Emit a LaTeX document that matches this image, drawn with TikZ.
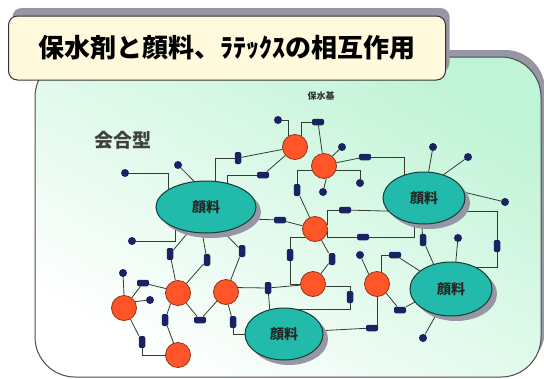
\documentclass[tikz,border=0pt]{standalone}
\usepackage{fontspec}
\newfontfamily\jp{Noto Sans CJK JP}
\usetikzlibrary{shapes.geometric,shadows}
\definecolor{paneltop}{RGB}{192,244,214}
\definecolor{titlefill}{RGB}{255,250,222}
\definecolor{pigfill}{RGB}{34,186,170}
\definecolor{pigline}{RGB}{20,60,50}
\definecolor{latfill}{RGB}{255,85,40}
\definecolor{latline}{RGB}{150,50,20}
\definecolor{grpblue}{RGB}{25,35,100}
\definecolor{wirecol}{RGB}{50,60,50}
\definecolor{shadowgray}{RGB}{150,150,165}
\pgfdeclarelayer{back}
\pgfdeclarelayer{wires}
\pgfsetlayers{back,wires,main}

\begin{document}
\begin{tikzpicture}[x=1pt,y=-1pt,
    pigment/.style={ellipse,draw=pigline,line width=1pt,fill=pigfill,inner sep=0pt,font=\jp\bfseries\fontsize{14}{14}\selectfont,text=black!85,general shadow={fill=shadowgray,shadow xshift=5pt,shadow yshift=-5pt}},
    latex/.style={circle,draw=latline,line width=0.8pt,fill=latfill,minimum size=25pt,inner sep=0pt},
    grp/.style={rectangle,rounded corners=2pt,fill=grpblue,minimum width=12pt,minimum height=6.5pt,inner sep=0pt},
    grpv/.style={grp,rotate=90},
    dot/.style={circle,fill=grpblue,minimum size=8pt,inner sep=0pt},
    every edge/.style={draw=wirecol,line width=0.8pt},
    hv/.style={to path={-| (\tikztotarget)}},
    vh/.style={to path={|- (\tikztotarget)}}]
                    \useasboundingbox (0,0) rectangle (544,378);
                    \begin{pgfonlayer}{back}
                    \path[draw=black!70,line width=1pt,rounded corners=40pt,top color=paneltop,bottom color=white,shading angle=-30,
                          general shadow={fill=shadowgray,shadow xshift=4pt,shadow yshift=7pt}] (35,57) rectangle (541,377);
                    \end{pgfonlayer}

                    \node[draw=black!80,line width=1pt,fill=titlefill,rounded corners=9pt,minimum width=437pt,minimum height=64pt,
                          font=\jp\bfseries\fontsize{26}{28}\selectfont,general shadow={fill=shadowgray,shadow xshift=4pt,shadow yshift=8pt}]
                          (title) at (227,48) {保水剤と顔料、ﾗﾃｯｸｽの相互作用};
                    \node[font=\jp\bfseries\fontsize{19}{20}\selectfont,text=black!75] (kind) at (123,140) {会合型};
                    \node[font=\jp\bfseries\fontsize{9}{10}\selectfont,text=black!80] (gname) at (321,96) {保水基};

                    % pigments
                    \node[pigment,minimum width=100pt,minimum height=52pt] (p1) at (206,207) {顔料};
                    \node[pigment,minimum width=82pt,minimum height=52pt] (p2) at (424,198) {顔料};
                    \node[pigment,minimum width=82pt,minimum height=54pt] (p3) at (451,289) {顔料};
                    \node[pigment,minimum width=78pt,minimum height=52pt] (p4) at (284,334) {顔料};

                    % latex particles
                    \node[latex] (l1) at (295,147) {};
                    \node[latex] (l2) at (324,166) {};
                    \node[latex] (l3) at (315,229) {};
                    \node[latex] (l4) at (313,284) {};
                    \node[latex] (l5) at (377,284) {};
                    \node[latex] (l6) at (226,292) {};
                    \node[latex] (l7) at (178,293) {};
                    \node[latex] (l8) at (124,308) {};
                    \node[latex] (l9) at (178,355) {};

                    % associating groups
                    \node[grpv] (g1) at (238,158) {};
                    \node[grp] (g2) at (263,175) {};
                    \node[grp] (g3) at (318,122) {};
                    \node[grp] (g4) at (365,157) {};
                    \node[grpv] (g5) at (297,190) {};
                    \node[grp] (g6) at (280,220) {};
                    \node[grp] (g7) at (345,210) {};
                    \node[grp] (g8) at (363,237) {};
                    \node[grpv] (g9) at (290,255) {};
                    \node[grpv] (g10) at (332,259) {};
                    \node[grpv] (g11) at (170,254) {};
                    \node[grpv] (g12) at (207,260) {};
                    \node[grpv] (g13) at (242,251) {};
                    \node[grpv] (g14) at (268,288) {};
                    \node[grpv] (g15) at (233,322) {};
                    \node[grp] (g16) at (200,320) {};
                    \node[grp] (g17) at (143,283) {};
                    \node[grpv] (g18) at (165,320) {};
                    \node[grpv] (g19) at (142,342) {};
                    \node[grpv] (g20) at (350,297) {};
                    \node[grp] (g21) at (395,255) {};
                    \node[grp] (g22) at (400,310) {};
                    \node[grp] (g23) at (372,328) {};
                    \node[grpv] (g24) at (423,240) {};
                    \node[grpv] (g25) at (497,246) {};

                    % free chain ends
                    \node[dot] (d1) at (125,173) {};
                    \node[dot] (d2) at (178,165) {};
                    \node[dot] (d3) at (132,241) {};
                    \node[dot] (d4) at (278,120) {};
                    \node[dot] (d5) at (342,147) {};
                    \node[dot] (d6) at (360,183) {};
                    \node[dot] (d7) at (323,192) {};
                    \node[dot] (d8) at (433,147) {};
                    \node[dot] (d9) at (468,157) {};
                    \node[dot] (d10) at (505,202) {};
                    \node[dot] (d11) at (458,238) {};
                    \node[dot] (d12) at (360,255) {};
                    \node[dot] (d13) at (423,338) {};
                    \node[dot] (d14) at (123,273) {};
                    \node[dot] (d15) at (150,300) {};

                    \begin{pgfonlayer}{wires}
                    \path
                        (p1.155) edge[vh] (d1)
                        (p1.115) edge (d2)
                        (p1.215) edge[vh] (d3)
                        (p1.70) edge[vh] (g1)
                        (g1) edge (l1)
                        (p1.48) edge[vh] (g2)
                        (g2) edge (l1)
                        (l1.120) edge[vh] (d4)
                        (l1.60) edge[vh] (g3)
                        (g3) edge (l2)
                        (l2.50) edge (d5)
                        (l2.15) edge (g4)
                        (g4) edge[hv] (p2.130)
                        (l2.-20) edge[hv] (d6)
                        (l2.-80) edge (d7)
                        (l2.200) edge[hv] (g5)
                        (g5) edge (l3)
                        (p1.-15) edge (g6)
                        (g6) edge (l3)
                        (l3.20) edge[vh] (g7)
                        (g7) edge (p2.200)
                        (l3.-10) edge[vh] (g8)
                        (g8) edge[hv] (p2.250)
                        (l3.220) edge[hv] (g9)
                        (g9) edge[vh] (l4)
                        (l3.-60) edge (g10)
                        (g10) edge (l4)
                        (p1.235) edge (g11)
                        (g11) edge (l7)
                        (p1.262) edge (g12)
                        (g12) edge (l7)
                        (p1.305) edge (g13)
                        (g13) edge (l6)
                        (l6.20) edge (g14)
                        (g14) edge (l4)
                        (g14) edge (p4.120)
                        (l6.-80) edge (g15)
                        (g15) edge[vh] (p4.west)
                        (l6.225) edge (g16)
                        (g16) edge (l7)
                        (l7.160) edge (g17)
                        (g17) edge (l8)
                        (l7.235) edge (g18)
                        (g18) edge (l9)
                        (l8.north) edge (d14)
                        (l8.30) edge (d15)
                        (l8.-60) edge (g19)
                        (g19) edge[vh] (l9)
                        (l4.-10) edge[hv] (g20)
                        (g20) edge[vh] (p4.60)
                        (p2.80) edge (d8)
                        (p2.50) edge (d9)
                        (p2.8) edge (d10)
                        (p2.265) edge (g24)
                        (g24) edge (p3.125)
                        (p2.-20) edge[hv] (g25)
                        (g25) edge[vh] (p3.40)
                        (p3.80) edge (d11)
                        (p3.240) edge (d13)
                        (l5.130) edge (d12)
                        (l5.70) edge[vh] (g21)
                        (g21) edge (p3.150)
                        (l5.-45) edge (g22)
                        (g22) edge (p3.200)
                        (p4.5) edge (g23)
                        (g23) edge[hv] (l5)
                        ;
                    \end{pgfonlayer}
                \end{tikzpicture}
\end{document}
